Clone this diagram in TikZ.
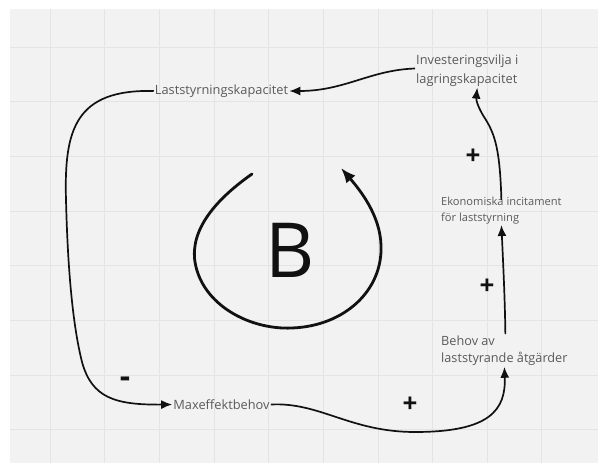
\documentclass[tikz,border=0pt]{standalone}
\usepackage{fontspec}
\setmainfont{Open Sans}
\usetikzlibrary{arrows.meta,calc}
\definecolor{canvas}{HTML}{F2F2F2}
\definecolor{gridc}{HTML}{E4E4E4}
\definecolor{labelc}{HTML}{5A5A5A}
\definecolor{inkc}{HTML}{111111}
\tikzset{
  lbl/.style={text=labelc, font=\fontsize{12.8}{19}\selectfont, inner sep=1pt, align=left},
  lblsmall/.style={lbl, font=\fontsize{11.1}{15.5}\selectfont},
  link/.style={draw=inkc, line width=1.7pt, -{Latex[length=11pt,width=9pt]}},
  loop/.style={draw=inkc, line width=2.8pt, line cap=round, -{Latex[length=15pt,width=12pt]}},
  sign/.style={text=inkc, font=\fontsize{26}{26}\selectfont\bfseries, inner sep=0pt},
  gridline/.style={draw=gridc, line width=0.8pt}
}
\begin{document}
\begin{tikzpicture}[x=1pt,y=-1pt]
  \useasboundingbox (0,0) rectangle (598,463);
  % canvas and grid
  \fill[white] (0,0) rectangle (598,463);
  \fill[canvas] (10,9) rectangle (598,463);
  \foreach \k in {0,...,9} {
    \draw[gridline] ({50+54.65*\k},9) -- ({50+54.65*\k},463);
  }
  \foreach \k in {0,...,7} {
    \draw[gridline] (10,{47+54.65*\k}) -- (598,{47+54.65*\k});
  }

  % variables
  \node[lbl] (lsk) at (221.5,91) {Laststyrningskapacitet};
  \node[lbl, anchor=west] (inv) at (415,70.5) {Investeringsvilja i\\lagringskapacitet};
  \node[lblsmall, anchor=west] (eko) at (440,210.5) {Ekonomiska incitament\\för laststyrning};
  \node[lbl, anchor=west, font=\fontsize{12.7}{17.5}\selectfont] (beh) at (440,350.5) {Behov av\\laststyrande åtgärder};
  \node[lbl] (mx) at (221.5,404.5) {Maxeffektbehov};

  % causal links
  \draw[link] ([yshift=2pt]inv.west) .. controls (370,70) and (345,91) .. (lsk.east);
  \draw[link] (lsk.west) .. controls (75,89) and (64,130) .. (66,200)
              .. controls (68,280) and (74,330) .. (82,362)
              .. controls (92,398) and (115,405) .. (mx.west);
  \draw[link] (mx.east) .. controls (320,402) and (350,432) .. (415,432)
              .. controls (490,432) and (506,410) .. (beh.south);
  \draw[link] ([xshift=1pt]beh.north) .. controls (505,300) and (503,260) .. (eko.south);
  \draw[link] ([yshift=-4pt]eko.north) .. controls (500,150) and (495,135) .. (486,120)
              .. controls (478,108) and (476,100) .. ([xshift=10pt]inv.south);

  % polarity signs
  \node[sign] (s1) at (473,157) {+};
  \node[sign] (s2) at (487,287) {+};
  \node[sign] (s3) at (410,405) {+};
  \node[sign, font=\fontsize{32}{32}\selectfont\bfseries] (s4) at (125,382) {-};

  % balancing loop marker
  \node[text=inkc, font=\fontsize{76}{76}\selectfont, inner sep=0pt] (bl) at (290,250) {B};
  \coordinate (la) at (252,174);
  \coordinate (lb) at (341,168);
  \draw[loop] (la) .. controls (215,200) and (190,230) .. (195,262)
              .. controls (202,305) and (250,330) .. (292,328)
              .. controls (345,326) and (383,290) .. (381,245)
              .. controls (380,215) and (360,190) .. (lb);
\end{tikzpicture}
\end{document}
